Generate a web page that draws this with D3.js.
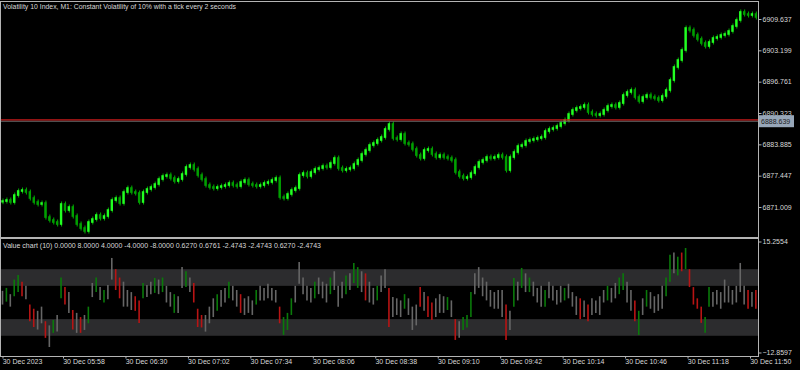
<!DOCTYPE html>
<html>
<head>
<meta charset="utf-8">
<script src="https://d3js.org/d3.v7.min.js"></script>
<style>
body { margin: 0; background: #000; }
svg { display: block; background: #000; }
text { font-family: "Liberation Sans", Arial, sans-serif; font-size: 7px; fill: #d8d8d8; }
</style>
</head>
<body>
<svg width="800" height="370"></svg>
<script>
// M1 bars sampled every 2 minutes, starting 30 Dec 2023 05:27
var barStart = [5, 27];
var barStep = 2;
var firstOpen = 6872.10;
var closes = [
6872.24, 6872.45, 6872.04, 6873.47, 6874.30, 6874.50, 6874.09, 6872.86, 6872.04, 6871.63,
6871.83, 6868.95, 6868.34, 6867.93, 6867.52, 6871.63, 6870.39, 6871.01, 6869.16, 6867.52,
6866.69, 6866.08, 6867.93, 6868.54, 6869.37, 6868.75, 6869.16, 6870.39, 6872.45, 6872.86,
6871.83, 6874.09, 6874.91, 6874.09, 6873.89, 6872.04, 6874.09, 6874.71, 6875.12, 6875.73,
6876.76, 6877.38, 6877.58, 6876.97, 6876.35, 6876.76, 6877.79, 6879.23, 6879.64, 6878.82,
6877.58, 6876.76, 6875.53, 6875.12, 6874.91, 6875.12, 6875.32, 6875.53, 6875.94, 6875.53,
6875.32, 6876.15, 6876.56, 6875.73, 6875.53, 6875.32, 6875.53, 6875.94, 6876.15, 6876.56,
6876.97, 6873.06, 6872.86, 6873.68, 6874.50, 6874.91, 6877.58, 6877.99, 6877.38, 6878.20,
6878.82, 6879.02, 6879.43, 6879.23, 6880.05, 6881.08, 6879.02, 6878.61, 6878.82, 6879.02,
6879.84, 6880.67, 6881.90, 6882.72, 6883.75, 6884.16, 6884.78, 6885.39, 6887.04, 6888.06,
6885.19, 6884.98, 6886.01, 6884.16, 6883.95, 6882.93, 6881.69, 6881.08, 6882.72, 6882.93,
6881.90, 6881.28, 6881.69, 6881.28, 6881.08, 6880.67, 6878.20, 6877.38, 6876.97, 6877.17,
6877.99, 6879.23, 6880.26, 6880.67, 6881.28, 6881.08, 6881.28, 6881.69, 6881.28, 6878.61,
6881.28, 6882.31, 6883.54, 6883.75, 6884.57, 6884.78, 6884.98, 6885.19, 6885.39, 6886.62,
6887.04, 6887.24, 6887.65, 6888.27, 6888.88, 6890.12, 6890.94, 6891.35, 6891.56, 6891.97,
6890.53, 6890.12, 6889.91, 6890.12, 6890.94, 6891.76, 6891.97, 6891.56, 6892.38, 6894.02,
6894.64, 6895.05, 6893.61, 6892.79, 6893.61, 6894.02, 6893.61, 6893.41, 6892.99, 6893.82,
6895.05, 6897.10, 6899.78, 6901.21, 6903.27, 6907.79, 6907.38, 6906.35, 6905.53, 6904.71,
6904.09, 6904.91, 6905.73, 6905.94, 6906.35, 6906.56, 6907.17, 6908.20, 6909.43, 6911.08,
6910.66, 6910.46, 6910.66, 6910.05
];

// Value chart (10) high / low per bar, colour code g/r/. (gray)
var vHigh = [
2.8,3.5,2.0,5.5,6.6,5.0,4.0,-0.5,-1.5,-2.0,
-1.0,-4.5,-5.5,-4.2,-3.0,6.0,3.7,2.5,-1.8,-2.5,
-3.5,-3.0,-1.0,4.7,6.0,3.7,3.0,4.2,10.7,8.0,
6.0,5.0,3.0,2.5,1.5,0.5,4.7,4.2,5.0,5.9,
5.5,6.0,4.0,2.5,2.0,1.5,8.5,7.5,6.0,4.7,
-1.5,-3.0,-3.0,-1.0,1.0,2.0,3.0,3.5,5.0,4.0,
3.0,2.0,1.0,1.5,0.5,3.0,4.0,3.5,4.5,3.5,
3.0,-1.0,-3.5,-2.5,1.0,4.0,9.7,6.0,4.0,3.5,
5.0,6.0,5.0,4.5,6.0,7.5,4.0,5.0,6.5,7.0,
9.5,8.5,7.5,7.0,5.0,3.5,4.0,6.5,8.0,3.5,
1.3,1.0,0.5,2.0,1.0,-1.0,-0.5,3.7,2.5,1.5,
0.0,1.0,2.0,1.5,1.3,0.5,-4.0,-4.5,-3.5,-3.0,
2.5,7.0,8.5,6.0,5.0,3.0,2.5,3.0,3.0,-0.5,
-2.0,5.9,5.0,8.3,7.0,6.0,5.0,3.5,4.0,3.0,
5.0,4.0,3.0,4.0,3.5,4.5,2.5,1.5,1.0,0.5,
-0.5,1.0,0.5,1.5,3.0,4.0,3.5,4.7,6.0,7.0,
5.0,3.0,0.5,-2.0,1.0,3.0,2.5,1.5,2.0,4.0,
6.0,11.5,12.0,11.0,12.0,13.1,8.0,3.7,1.0,-1.0,
-3.5,3.7,2.5,3.0,2.5,5.5,4.0,3.0,4.0,9.5,
4.0,3.0,2.5,3.0
];
var vLow = [
-0.5,0.2,-1.0,1.5,2.5,1.5,0.8,-4.5,-5.9,-6.5,
-5.0,-8.5,-10.7,-7.3,-7.0,1.0,-0.5,-2.5,-6.5,-7.3,
-7.3,-6.6,-5.0,1.3,2.5,0.6,0.0,0.8,5.5,3.0,
1.0,-1.0,-1.0,-1.8,-2.0,-4.9,1.0,1.3,2.0,2.3,
2.0,2.5,0.0,-1.0,-2.5,-2.5,3.5,3.7,2.5,0.0,
-5.9,-6.0,-7.0,-5.0,-3.5,-2.0,-1.0,0.0,1.0,0.5,
-1.0,-2.5,-3.0,-2.5,-3.0,-0.5,0.5,0.5,1.0,0.5,
0.0,-5.0,-7.8,-6.6,-3.0,0.0,4.5,2.0,0.5,0.0,
1.0,2.0,1.0,0.0,2.0,3.0,-1.0,1.0,2.0,3.0,
4.7,3.5,2.5,0.5,0.0,-0.5,0.5,2.5,3.5,-5.9,
-3.5,-3.0,-3.5,-1.5,-3.0,-6.6,-5.5,-1.0,-2.0,-3.5,
-4.2,-3.5,-2.5,-2.5,-1.8,-3.5,-9.0,-8.5,-6.6,-6.0,
-3.5,2.0,3.5,1.5,0.5,-1.0,-1.5,-1.5,-3.5,-9.0,
-6.6,-1.0,0.5,3.5,2.5,2.5,1.5,0.0,-1.0,-1.0,
1.0,0.5,-0.5,0.0,0.5,1.0,-1.0,-3.0,-4.0,-3.5,
-4.5,-3.0,-2.5,-3.0,0.0,0.5,0.0,1.0,2.0,3.0,
0.0,-2.0,-4.5,-7.8,-3.0,-1.0,-1.5,-2.5,-2.0,-1.5,
1.5,5.0,7.0,6.5,7.5,8.0,3.7,-0.5,-1.5,-4.9,
-7.3,-1.0,-1.0,-0.5,-1.5,0.0,0.0,-0.5,0.0,2.5,
-0.5,-1.5,-1.0,-1.5
];
var vColor = (".g.ggr.rr." + ".r.g.gr.r." + "r.g.g.g..r" + "r...rrg..g" + ".g..g..g.r" +
              "rr...g..g." + ".r...g...." + ".rggg....." + "g...g...g." + "gg.r..g..r" +
              "...g...r.r" + "r...g.r.gg" + "g........r" + ".g.g.g...g" + "....g...r." +
              "r....g..gg" + "..rg.g...." + "gg.grgrrrr" + "gg........" + ".r.r").split("");

var priceTicks = [6909.637, 6903.199, 6896.761, 6890.323, 6883.885, 6877.447, 6871.009];
var priceRange = [6864.85, 6913.13];
var bidPrice = 6888.639;
var askPrice = 6888.92;
var valueTicks = [15.2554, -12.8597];
var valueLevels = [8, 4, -4, -8];
var timeTicks = ["05:27","05:58","06:30","07:02","07:34","08:06","08:38","09:10","09:42","10:14","10:46","11:18","11:50"];
var timeLabels = ["30 Dec 2023","30 Dec 05:58","30 Dec 06:30","30 Dec 07:02","30 Dec 07:34","30 Dec 08:06",
                  "30 Dec 08:38","30 Dec 09:10","30 Dec 09:42","30 Dec 10:14","30 Dec 10:46","30 Dec 11:18","30 Dec 11:50"];
var titleText = "Volatility 10 Index, M1:  Constant Volatility of 10% with a tick every 2 seconds";
var valueTitle = "Value chart (10) 0.0000 8.0000 4.0000 -4.0000 -8.0000 0.6270 0.6761 -2.4743 -2.4743 0.6270 -2.4743";

var svg = d3.select("svg");
var frameColor = "#b4b4b4";
var right = 758;

function hm(s) {
    var p = s.split(":");
    return new Date(2023, 11, 30, +p[0], +p[1]);
}
var barTime = closes.map(function(c, i) {
    return new Date(2023, 11, 30, barStart[0], barStart[1] + i * barStep);
});
function openOf(i) { return i === 0 ? firstOpen : closes[i - 1]; }

var x = d3.scaleTime().domain([hm("05:58"), hm("11:50")]).range([63, 750]);
var y = d3.scaleLinear().domain(priceRange).range([237, 2]);
var vy = d3.scaleLinear().domain([valueTicks[1], valueTicks[0]]).range([356, 239]);

svg.append("clipPath").attr("id", "mainClip").append("rect")
    .attr("x", 1).attr("y", 2).attr("width", right - 1).attr("height", 235);
svg.append("clipPath").attr("id", "subClip").append("rect")
    .attr("x", 1).attr("y", 239).attr("width", right - 1).attr("height", 117);

// main price panel
var main = svg.append("g").attr("clip-path", "url(#mainClip)");

// wicks
main.selectAll("line.wick").data(closes).enter().append("line")
    .attr("class", "wick")
    .attr("x1", function(d, i) { return x(barTime[i]) + 0.5; })
    .attr("x2", function(d, i) { return x(barTime[i]) + 0.5; })
    .attr("y1", function(d, i) { return y(Math.max(openOf(i), d)) - 2.5; })
    .attr("y2", function(d, i) { return y(Math.min(openOf(i), d)) + 2.5; })
    .attr("stroke", "#00b000").attr("stroke-width", 1);

main.selectAll("rect.bar").data(closes).enter().append("rect")
    .attr("class", "bar")
    .attr("x", function(d, i) { return x(barTime[i]) - 1.2; })
    .attr("width", 2.4)
    .attr("y", function(d, i) { return y(Math.max(openOf(i), d)) - 0.8; })
    .attr("height", function(d, i) { return Math.max(2, Math.abs(y(openOf(i)) - y(d)) + 1.6); })
    .attr("fill", function(d, i) { return d >= openOf(i) ? "#22ff22" : "#00a000"; });

main.append("line")
    .attr("x1", 0).attr("x2", right)
    .attr("y1", y(bidPrice)).attr("y2", y(bidPrice))
    .attr("stroke", "#707070").attr("stroke-width", 1);
main.append("line")
    .attr("x1", 0).attr("x2", right)
    .attr("y1", y(askPrice)).attr("y2", y(askPrice))
    .attr("stroke", "#c41a1a").attr("stroke-width", 1.2);

// value chart panel
var sub = svg.append("g").attr("clip-path", "url(#subClip)");

sub.selectAll("rect.band").data([[valueLevels[0], valueLevels[1]], [valueLevels[2], valueLevels[3]]])
    .enter().append("rect")
    .attr("class", "band")
    .attr("x", 0).attr("width", right)
    .attr("y", function(d) { return vy(d[0]); })
    .attr("height", function(d) { return vy(d[1]) - vy(d[0]); })
    .attr("fill", "#2c2c2e");

var colorMap = { "g": "#0a7a0a", "r": "#b81414", ".": "#666666" };
sub.selectAll("line.vbar").data(vHigh).enter().append("line")
    .attr("class", "vbar")
    .attr("x1", function(d, i) { return x(barTime[i]); })
    .attr("x2", function(d, i) { return x(barTime[i]); })
    .attr("y1", function(d) { return vy(d); })
    .attr("y2", function(d, i) { return vy(vLow[i]); })
    .attr("stroke", function(d, i) { return colorMap[vColor[i]]; })
    .attr("stroke-width", 1.6);

// frames
svg.append("rect").attr("x", 0.5).attr("y", 1.5).attr("width", right).attr("height", 236)
    .attr("fill", "none").attr("stroke", frameColor);
svg.append("line").attr("x1", 0).attr("x2", right + 1).attr("y1", 238).attr("y2", 238)
    .attr("stroke", frameColor).attr("stroke-width", 2);
svg.append("rect").attr("x", 0.5).attr("y", 238.5).attr("width", right).attr("height", 118)
    .attr("fill", "none").attr("stroke", frameColor);

// price axis
var pAxis = svg.append("g").attr("transform", "translate(" + (right + 0.5) + ",0)")
    .call(d3.axisRight(y).tickValues(priceTicks).tickFormat(d3.format(".3f")).tickSize(3).tickPadding(1));
pAxis.select(".domain").remove();

// bid label
svg.append("rect").attr("x", right + 1).attr("y", y(bidPrice) - 6).attr("width", 35).attr("height", 12)
    .attr("fill", "#97a6b8");
svg.append("text").attr("x", right + 3).attr("y", y(bidPrice) + 2.5)
    .style("fill", "#202020").text(d3.format(".3f")(bidPrice));

// value axis
var vAxis = svg.append("g").attr("transform", "translate(" + (right + 0.5) + ",0)")
    .call(d3.axisRight(vy).tickValues(valueTicks).tickFormat(d3.format(".4f")).tickSize(3).tickPadding(1));
vAxis.select(".domain").remove();
vAxis.selectAll(".tick").attr("transform", function(d) {
    return "translate(0," + (vy(d) + (d > 0 ? 3 : -3)) + ")";
});

// time axis
var tAxis = svg.append("g").attr("transform", "translate(0,356.5)")
    .call(d3.axisBottom(x).tickValues(timeTicks.map(hm))
        .tickFormat(function(d, i) { return timeLabels[i]; }).tickSize(2).tickPadding(1));
tAxis.select(".domain").remove();
tAxis.selectAll("text").attr("text-anchor", "start").attr("dx", "-0.3");

svg.selectAll(".tick line").attr("stroke", frameColor);
svg.selectAll(".tick text").style("fill", "#d8d8d8").style("font-size", "7px")
    .style("font-family", "'Liberation Sans', Arial, sans-serif");

// titles
svg.append("text").attr("x", 3).attr("y", 8.5)
    .attr("textLength", 233).attr("lengthAdjust", "spacingAndGlyphs").text(titleText);
svg.append("text").attr("x", 3).attr("y", 247.5)
    .attr("textLength", 318).attr("lengthAdjust", "spacingAndGlyphs").text(valueTitle);
</script>
</body>
</html>
